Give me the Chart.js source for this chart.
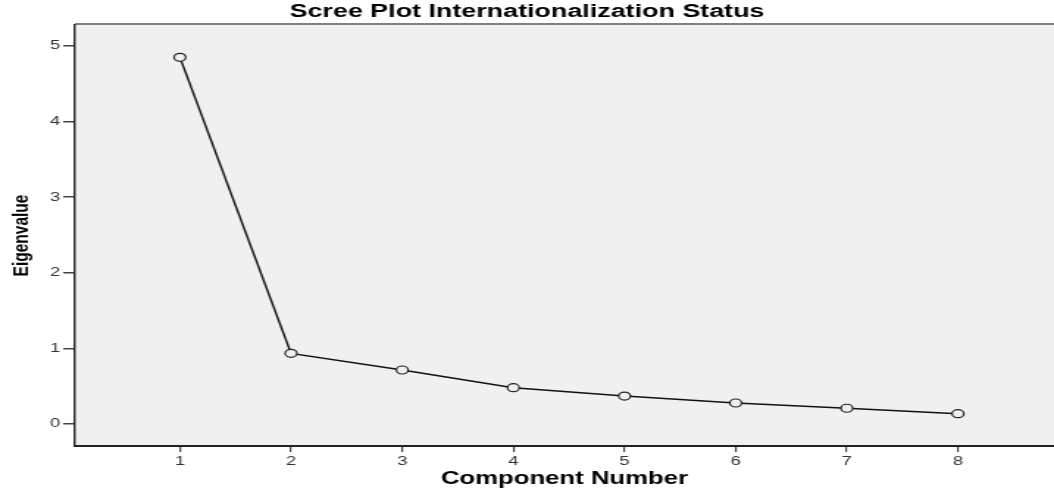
<!DOCTYPE html>
<html>
<head>
<meta charset="utf-8">
<script src="https://cdn.jsdelivr.net/npm/chart.js@4/dist/chart.umd.min.js"></script>
<style>
    body { margin: 0; background: #fff; }
</style>
</head>
<body>
<!-- drawn at a narrower size and stretched sideways, like the original export -->
<canvas id="scree" width="717" height="495" style="width:1054px;height:495px"></canvas>
<script>
const components = [1, 2, 3, 4, 5, 6, 7, 8];
const eigenvalues = [4.85, 0.935, 0.714, 0.48, 0.37, 0.278, 0.208, 0.136];
const yTicks = [0, 1, 2, 3, 4, 5];

const plotBackground = {
    id: "plotBackground",
    beforeDraw(chart) {
        const { ctx, chartArea } = chart;
        ctx.save();
        ctx.fillStyle = "#f0f0f0";
        ctx.fillRect(chartArea.left, chartArea.top, chartArea.right - chartArea.left, chartArea.bottom - chartArea.top);
        ctx.strokeStyle = "#808080";
        ctx.lineWidth = 2;
        ctx.beginPath();
        ctx.moveTo(chartArea.left, chartArea.top - 1);
        ctx.lineTo(chartArea.right, chartArea.top - 1);
        ctx.stroke();
        ctx.restore();
    }
};

const ctx = document.getElementById("scree").getContext("2d");

let screeChart = new Chart(ctx, {
    type: "line",
    data: {
        datasets: [{
            data: components.map((c, i) => ({ x: c, y: eigenvalues[i] })),
            borderColor: "#111",
            borderWidth: 1.4,
            pointRadius: 4,
            pointBorderWidth: 1.2,
            pointBorderColor: "#222",
            pointBackgroundColor: "#f0f0f0",
            tension: 0
        }]
    },
    options: {
        responsive: false,
        animation: false,
        devicePixelRatio: 1,
        layout: { padding: 0, autoPadding: false },
        plugins: {
            legend: { display: false },
            tooltip: { enabled: false },
            title: {
                display: true,
                text: "Scree Plot Internationalization Status",
                color: "#000",
                font: { family: "Liberation Sans, Arial, sans-serif", size: 18.3, weight: "bold" },
                padding: { top: 0.5, bottom: 2.5 }
            }
        },
        scales: {
            x: {
                type: "linear",
                min: 0.056,
                max: 8.864,
                afterBuildTicks: scale => { scale.ticks = components.map(v => ({ value: v })); },
                afterFit: scale => {
                    scale.height = 49;
                    scale.paddingLeft = 0;
                    scale.paddingRight = 0;
                },
                grid: { drawOnChartArea: false, drawTicks: true, tickLength: 6, color: "#444", lineWidth: 1.2 },
                border: { display: true, color: "#222", width: 2 },
                ticks: {
                    color: "#333",
                    padding: 2,
                    maxRotation: 0,
                    font: { family: "Liberation Sans, Arial, sans-serif", size: 12.5 }
                },
                title: {
                    display: true,
                    text: "Component Number",
                    color: "#000",
                    font: { family: "Liberation Sans, Arial, sans-serif", size: 17.5, weight: "bold" },
                    padding: { top: 0, bottom: 5 }
                }
            },
            y: {
                min: -0.291,
                max: 5.278,
                afterBuildTicks: scale => { scale.ticks = yTicks.map(v => ({ value: v })); },
                afterFit: scale => {
                    scale.width = 51;
                    scale.paddingTop = 0;
                    scale.paddingBottom = 0;
                },
                grid: { drawOnChartArea: false, drawTicks: true, tickLength: 8, color: "#444", lineWidth: 1.5 },
                border: { display: true, color: "#222", width: 1.4 },
                ticks: {
                    color: "#333",
                    padding: 2,
                    font: { family: "Liberation Sans, Arial, sans-serif", size: 12.5 }
                },
                title: {
                    display: true,
                    text: "Eigenvalue",
                    color: "#000",
                    font: { family: "Liberation Sans, Arial, sans-serif", size: 15.5, weight: "bold" },
                    padding: { top: 5.7, bottom: 0 }
                }
            }
        }
    },
    plugins: [plotBackground]
});
</script>
</body>
</html>
